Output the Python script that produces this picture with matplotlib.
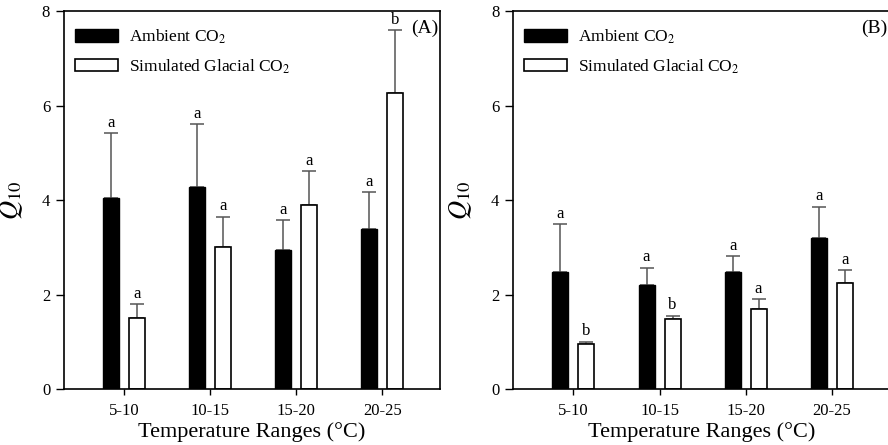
import numpy as np
import matplotlib
matplotlib.use('Agg')
import matplotlib.pyplot as plt

plt.rcParams['font.family'] = ['Liberation Serif', 'DejaVu Serif']
plt.rcParams['mathtext.fontset'] = 'stix'

ranges = ['5-10', '10-15', '15-20', '20-25']

# panel A
ambA = [4.05, 4.27, 2.94, 3.39]
ambA_err = [1.37, 1.34, 0.64, 0.77]
glaA = [1.50, 3.01, 3.89, 6.26]
glaA_err = [0.29, 0.64, 0.72, 1.34]
ambA_lab = ['a', 'a', 'a', 'a']
glaA_lab = ['a', 'a', 'a', 'b']

# panel B
ambB = [2.48, 2.21, 2.48, 3.20]
ambB_err = [1.01, 0.36, 0.33, 0.66]
glaB = [0.95, 1.48, 1.70, 2.24]
glaB_err = [0.05, 0.07, 0.20, 0.27]
ambB_lab = ['a', 'a', 'a', 'a']
glaB_lab = ['b', 'b', 'a', 'a']

fig = plt.figure(figsize=(8.88, 4.45), dpi=100)
axA = fig.add_axes([0.0721, 0.1258, 0.4234, 0.8494])
axB = fig.add_axes([0.578, 0.1258, 0.4234, 0.8494])

w = 0.186
off = 0.151
errcol = '#555555'


def panel(ax, amb, amb_err, gla, gla_err, amb_lab, gla_lab, tag):
    x = np.arange(len(ranges))
    ax.bar(x - off, amb, w, color='black', edgecolor='black', linewidth=1.0,
           label='Ambient CO$_2$', zorder=2)
    ax.bar(x + off, gla, w, color='white', edgecolor='black', linewidth=1.2,
           label='Simulated Glacial CO$_2$', zorder=2)
    ax.errorbar(x - off, amb, yerr=[np.zeros(len(amb)), amb_err], fmt='none',
                ecolor=errcol, elinewidth=1.1, capsize=5, capthick=1.1, zorder=1)
    ax.errorbar(x + off, gla, yerr=[np.zeros(len(gla)), gla_err], fmt='none',
                ecolor=errcol, elinewidth=1.1, capsize=5, capthick=1.1, zorder=1)
    for i in range(len(ranges)):
        ax.text(x[i] - off, amb[i] + amb_err[i] + 0.05, amb_lab[i],
                ha='center', va='bottom', fontsize=12)
        ax.text(x[i] + off, gla[i] + gla_err[i] + 0.05, gla_lab[i],
                ha='center', va='bottom', fontsize=12)
    ax.set_xlim(-0.70, 3.67)
    ax.set_ylim(0, 8)
    ax.set_yticks([0, 2, 4, 6, 8])
    ax.set_xticks(x)
    ax.set_xticklabels(ranges)
    ax.tick_params(axis='both', direction='out', labelsize=12, width=1.0)
    ax.tick_params(axis='y', length=6, pad=4)
    ax.tick_params(axis='x', length=4, pad=6)
    for s in ax.spines.values():
        s.set_linewidth(1.2)
    ax.set_xlabel('Temperature Ranges (°C)', fontsize=16, labelpad=2)
    ax.set_ylabel('$Q_{10}$', fontsize=19, labelpad=12)
    ax.text(0.995, 0.955, tag, transform=ax.transAxes, ha='right', va='center',
            fontsize=14)
    ax.legend(loc='upper left', bbox_to_anchor=(0.01, 0.975), frameon=False,
              fontsize=12.5, handlelength=2.5, handleheight=0.75,
              handletextpad=0.6, labelspacing=0.65, borderaxespad=0)


panel(axA, ambA, ambA_err, glaA, glaA_err, ambA_lab, glaA_lab, '(A)')
panel(axB, ambB, ambB_err, glaB, glaB_err, ambB_lab, glaB_lab, '(B)')

fig.savefig('out.png', dpi=100)
